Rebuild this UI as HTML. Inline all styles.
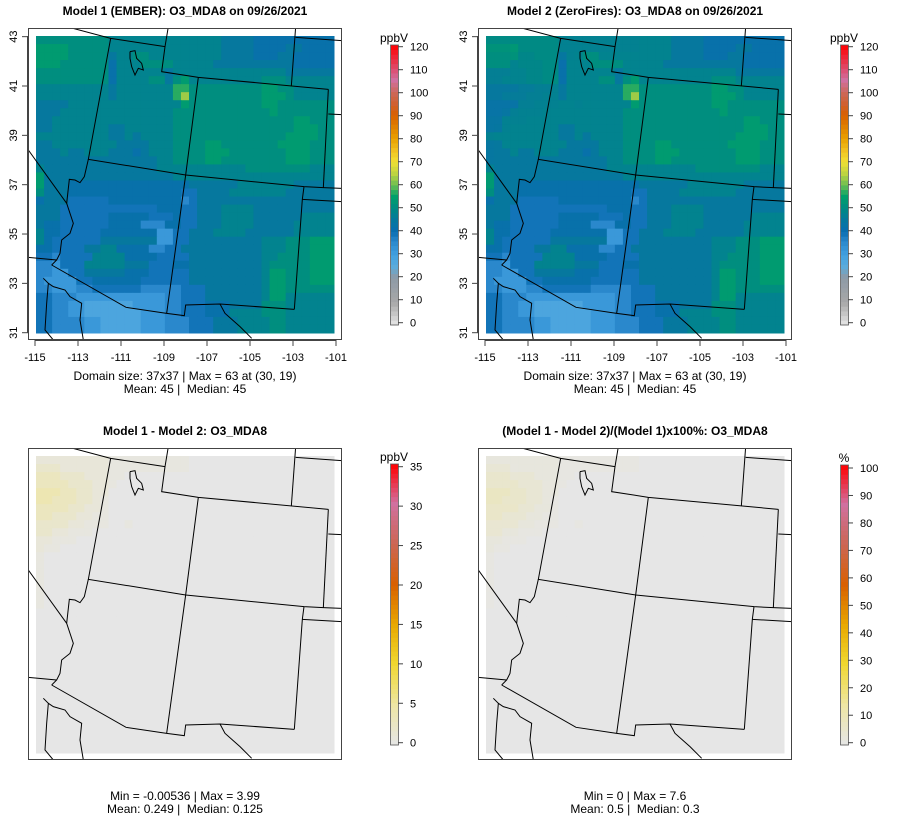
<!DOCTYPE html>
<html><head><meta charset="utf-8"><style>
body{margin:0;background:#fff;}
svg{display:block;font-family:"Liberation Sans",sans-serif;}
text{white-space:pre;}
</style></head><body>
<svg id="fig" width="900" height="840" viewBox="0 0 900 840" xmlns="http://www.w3.org/2000/svg" xml:space="preserve">
<defs><clipPath id="boxclip"><rect x="28" y="28" width="314" height="312"/></clipPath></defs>
</svg>
<script>
// Model 1 O3_MDA8 grid (37x37, row 0 = north). Code chars map to ppbV levels.
const levelCodes = ['1','2','3','4','5','6','7','8','9','A','B','C'];
const levelValues = [28,32,36,39,42,45,48,51,54,57,60,63];
const model1Rows = [
"8888888887777777777777766665555555555",
"9999888887777777777777766665555665555",
"9999888886778877777777766665556655555",
"9998888885777888877777666666666655555",
"8888888885777777677777777777777666666",
"8888888885777788689777777777888777777",
"77777777767777777AA888888888998877777",
"77777777767777777AC888888888999877777",
"6666777777777777779888888888998888888",
"6667777777777777788888888888898888888",
"6677777777777777788888888888888899888",
"6677777776677777788888888888888899988",
"7777777776676777788888888888888999988",
"6677777777666677788889988888889999888",
"6667667776665677788889998888888999888",
"6666666666666667788889988888888999888",
"7666666666666667777777777788888888777",
"9666666666666666677777777777777777777",
"9666555555555555555666666777777766666",
"8666555555555555554466667777777666666",
"5666444445555555553466666666666666666",
"6664444444444445554466677776666666666",
"6664444445555544454466677776666667777",
"6554444445555333554466677776666677777",
"7554444455555552244666777766666677777",
"7544444466666662244666666666777888999",
"5544446677555533446666666666777888999",
"4434444777755554444666666666778888999",
"3324447777766644455666666666788888999",
"3322446666655544444666666666799888999",
"3222244555555444444666666666799888999",
"3322233444444333334446666666799888888",
"4433322222222222334446666666799777777",
"4433221111112222334445556666888777777",
"4433221111111222334445557777888777777",
"4433332211111222333444666777788777777",
"4433332211111222333444666777788777777"
];
// Model1 - Model2 difference grid codes
const diffCodes = ['0','1','2','3','4','5'];
const diffValues = [0,0.5,1,2,3,4];
const diffRows = [
"2222222221111111111000000000000000000",
"3332222221111111111000000000000000000",
"4443332221100000000000000000000000000",
"4444333221000000000000000000000000000",
"5554433220000000000000000000000000000",
"5544433210000000000000000000000000000",
"4444332210000000000000000000000000000",
"4433322110000000000000000000000000000",
"3333221110010000000000000000000000000",
"3322111000000000000000000000000000000",
"2211100000000000000000000000000000000",
"2110000000000000000000000000000000000",
"1000000000000000000000000000000000000",
"1000000000000000000000000000000000000",
"1000000000000000000000000000000000000",
"1000000000000000000000000000000000000",
"1000000000000000000000000000000000000",
"1000000000000000000000000000000000000",
"1000000000000000000000000000000000000",
"0000000000000000000000000000000000000","0000000000000000000000000000000000000","0000000000000000000000000000000000000",
"0000000000000000000000000000000000000","0000000000000000000000000000000000000","0000000000000000000000000000000000000",
"0000000000000000000000000000000000000","0000000000000000000000000000000000000","0000000000000000000000000000000000000",
"0000000000000000000000000000000000000","0000000000000000000000000000000000000","0000000000000000000000000000000000000",
"0000000000000000000000000000000000000","0000000000000000000000000000000000000","0000000000000000000000000000000000000",
"0000000000000000000000000000000000000","0000000000000000000000000000000000000","0000000000000000000000000000000000000"
];
const lonTicks = [-115,-113,-111,-109,-107,-105,-103,-101];
const latTicks = [31,33,35,37,39,41,43];
const ppbTicks = [0,10,20,30,40,50,60,70,80,90,100,110,120];
const diffTicks = [0,5,10,15,20,25,30,35];
const pctTicks = [0,10,20,30,40,50,60,70,80,90,100];

const NS="http://www.w3.org/2000/svg";
const svg=document.getElementById('fig');
function mk(tag,attrs,parent){const e=document.createElementNS(NS,tag);for(const k in attrs)e.setAttribute(k,attrs[k]);(parent||svg).appendChild(e);return e;}
function hex(c){return [parseInt(c.slice(1,3),16),parseInt(c.slice(3,5),16),parseInt(c.slice(5,7),16)];}
function interp(stops,t){t=Math.max(0,Math.min(1,t));for(let i=1;i<stops.length;i++){if(t<=stops[i][0]){const a=stops[i-1],b=stops[i];const f=(t-a[0])/(b[0]-a[0]||1);const A=hex(a[1]),B=hex(b[1]);return 'rgb('+A.map((v,j)=>Math.round(v+(B[j]-v)*f)).join(',')+')';}}return stops[stops.length-1][1];}
const cmapMain=[[0,'#e6e6e6'],[0.08,'#a8a8a8'],[0.17,'#8e9aa6'],[0.21,'#5aacdc'],[0.25,'#42a0e0'],[0.3,'#2a88cc'],[0.333,'#0a6db2'],[0.375,'#06789e'],[0.417,'#008a84'],[0.46,'#00a06a'],[0.5,'#6cbe52'],[0.54,'#bcd240'],[0.583,'#f0e034'],[0.625,'#f0c020'],[0.667,'#e8a000'],[0.71,'#e08000'],[0.75,'#d86000'],[0.79,'#d06030'],[0.83,'#cc6858'],[0.875,'#d070a0'],[0.92,'#e04868'],[1,'#ff0000']];
const cmapDiff=[[0,'#e6e6e6'],[0.14,'#eee6a6'],[0.29,'#f0d830'],[0.43,'#e8a800'],[0.57,'#d86000'],[0.71,'#cc6650'],[0.86,'#d070a0'],[1,'#ff0000']];

function gridVals(rows,codes,vals){return rows.map(r=>r.split('').map(ch=>vals[codes.indexOf(ch)]));}
const m1=gridVals(model1Rows,levelCodes,levelValues);
const dv=gridVals(diffRows,diffCodes,diffValues);
const m2=m1.map((r,i)=>r.map((v,j)=>v-dv[i][j]));
const pct=m1.map((r,i)=>r.map((v,j)=>dv[i][j]/v*100));

const borders=[
[[140,20],[272,55],[435,80]],
[[445,20],[435,80],[425,155],[535,172],[925,208]],
[[272,55],[205,418],[497,465],[852,500],[910,503],[965,505]],
[[827,20],[814,198]],
[[827,52],[965,62]],
[[535,172],[497,465],[440,880]],
[[925,208],[910,503]],
[[925,282],[965,284]],
[[852,500],[847,538],[823,868]],
[[847,538],[965,545]],
[[25,390],[140,550]],
[[205,418],[193,470],[180,488],[165,480],[148,478],[140,550],[160,610],[150,640],[125,660],[120,700],[110,720],[95,735]],
[[25,712],[110,720]],
[[95,735],[318,862],[440,880],[493,887],[497,855],[600,852],[823,868]],
[[600,852],[615,880],[660,920],[695,955]],
[[70,775],[85,790],[80,850],[75,930],[100,960]],
[[85,790],[100,800],[135,810],[150,830],[185,850],[180,900],[190,960]],
[[330,95],[345,92],[350,115],[365,130],[370,150],[355,145],[345,165],[335,140],[330,115],[330,95]]
];

function panel(ox,oy,grid,cmap,vmax,name,title,axes,cb,cbTicks,unit,cap1,cap2,capY){
  const g=mk('g',{'transform':'translate('+ox+','+oy+')'});
  
  
  const t=mk('text',{x:185,y:15,'text-anchor':'middle','font-size':'12','font-weight':'bold',fill:'#000'},g);
  t.textContent=title;
  
  
  const n=grid.length,cw=298/n,ch=297/n;
  const hm=mk('g',{},g);
  
  
  grid.forEach((row,i)=>row.forEach((v,j)=>{
    const r=mk('rect',{x:(36+j*cw).toFixed(2),y:(36+i*ch).toFixed(2),width:(cw+0.5).toFixed(2),height:(ch+0.5).toFixed(2),fill:interp(cmap,v/vmax)},hm);
    
    
  }));
  const bg=mk('g',{'clip-path':'url(#boxclip)'},g);
  const bg2=mk('g',{transform:'translate(20,20) scale(0.33333)'},bg);
  
  
  borders.forEach(p=>{mk('polyline',{points:p.map(q=>q.join(',')).join(' '),fill:'none',stroke:'#000','stroke-width':'1','vector-effect':'non-scaling-stroke'},bg2);});
  const box=mk('rect',{x:28.5,y:28.5,width:313,height:311,fill:'none',stroke:'#444','stroke-width':'1'},g);
  
  
  if(axes){
    const xa=mk('g',{},g);
    
    
    mk('line',{x1:35,x2:336,y1:340.5,y2:340.5,stroke:'#444'},xa);
    lonTicks.forEach(l=>{const x=35+(l+115)*21.5;mk('line',{x1:x,x2:x,y1:340,y2:346,stroke:'#444'},xa);
      const tx=mk('text',{x:x,y:361,'text-anchor':'middle','font-size':'11',fill:'#000'},xa);tx.textContent=l;});
    const ya=mk('g',{},g);
    
    
    mk('line',{x1:27.5,x2:27.5,y1:36,y2:333,stroke:'#444'},ya);
    latTicks.forEach(l=>{const y=332.7-(l-31)*24.67;mk('line',{x1:22,x2:28,y1:y,y2:y,stroke:'#444'},ya);
      const tx=mk('text',{x:0,y:0,transform:'translate(17,'+y+') rotate(-90)','text-anchor':'middle','font-size':'11',fill:'#000'},ya);tx.textContent=l;});
  }
  const cbg=mk('g',{},g);
  
  
  const top=cb[0],bot=cb[1],N=60;
  for(let k=0;k<N;k++){const y=bot-(k+1)*(bot-top)/N;mk('rect',{x:391,y:y.toFixed(2),width:7,height:((bot-top)/N+0.4).toFixed(2),fill:interp(cmap,(k+0.5)/N)},cbg);}
  mk('rect',{x:390.5,y:top,width:8,height:bot-top,fill:'none',stroke:'#555','stroke-width':'0.8'},cbg);
  const tmax=cbTicks[cbTicks.length-1];
  const t0=cb[2],t1=cb[3];
  cbTicks.forEach(v=>{const y=t0-(v/tmax)*(t0-t1);mk('line',{x1:398,x2:403,y1:y,y2:y,stroke:'#444'},cbg);
    const tx=mk('text',{x:410,y:y+4,'font-size':'11',fill:'#000'},cbg);tx.textContent=v;});
  const ut=mk('text',{x:394,y:top-3,'text-anchor':'middle','font-size':'12',fill:'#000'},cbg);
  ut.textContent=unit;
  
  
  const c1=mk('text',{x:185,y:capY,'text-anchor':'middle','font-size':'12',fill:'#000'},g);c1.textContent=cap1;
  
  
  const c2=mk('text',{x:185,y:capY+13,'text-anchor':'middle','font-size':'12',fill:'#000'},g);c2.textContent=cap2;
  
  
}
panel(0,0,m1,cmapMain,120,'panel-model1','Model 1 (EMBER): O3_MDA8 on 09/26/2021',true,[45,325,322.7,46.7],ppbTicks,'ppbV','Domain size: 37x37 | Max = 63 at (30, 19)','Mean: 45 |  Median: 45',380);
panel(450,0,m2,cmapMain,120,'panel-model2','Model 2 (ZeroFires): O3_MDA8 on 09/26/2021',true,[45,325,322.7,46.7],ppbTicks,'ppbV','Domain size: 37x37 | Max = 63 at (30, 19)','Mean: 45 |  Median: 45',380);
panel(0,420,dv,cmapDiff,35,'panel-difference','Model 1 - Model 2: O3_MDA8',false,[44,325,322.7,46.7],diffTicks,'ppbV','Min = -0.00536 | Max = 3.99','Mean: 0.249 |  Median: 0.125',380);
panel(450,420,pct,cmapDiff,100,'panel-percent-difference','(Model 1 - Model 2)/(Model 1)x100%: O3_MDA8',false,[45,325,322.7,48],pctTicks,'%','Min = 0 | Max = 7.6','Mean: 0.5 |  Median: 0.3',380);
</script>
</body></html>
